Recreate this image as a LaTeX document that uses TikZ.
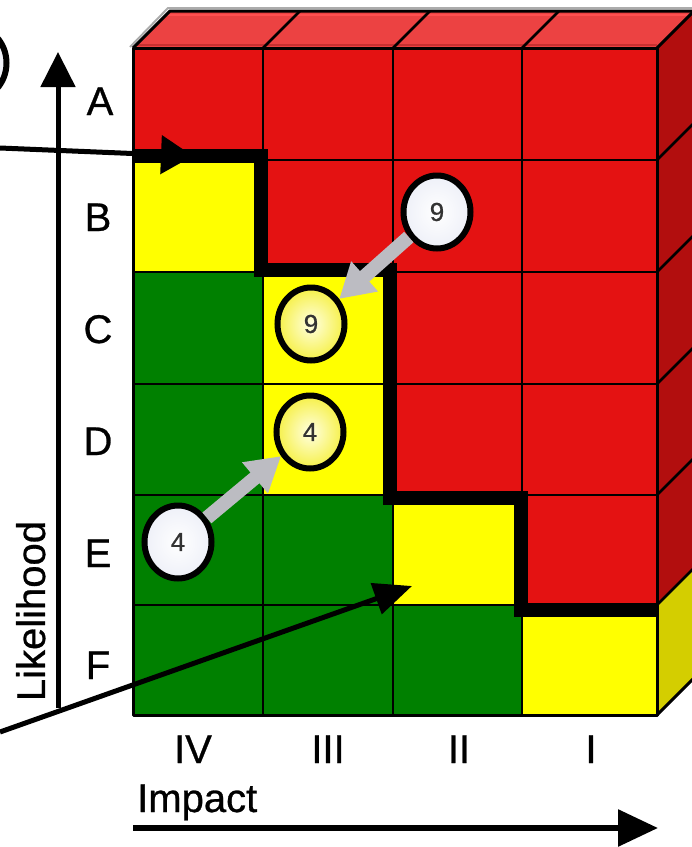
\documentclass[tikz,border=0pt]{standalone}
\usepackage{fontspec}
\setmainfont{Liberation Sans}
\newfontfamily\lblfont{Liberation Sans}[FakeBold=0.7]
\usetikzlibrary{arrows.meta,calc,shapes.geometric}
\definecolor{cred}{RGB}{228,18,18}
\definecolor{credtop}{RGB}{236,66,66}
\definecolor{credtophi}{RGB}{255,80,80}
\definecolor{credtoplo}{RGB}{200,48,48}
\definecolor{credside}{RGB}{178,14,14}
\definecolor{cyel}{RGB}{255,255,0}
\definecolor{cyelside}{RGB}{212,206,0}
\definecolor{cgreen}{RGB}{0,128,0}
\definecolor{carrow}{RGB}{188,188,194}
\definecolor{cwout}{RGB}{238,240,248}
\definecolor{cyin}{RGB}{255,255,225}
\definecolor{cyout}{RGB}{246,240,70}
\begin{document}
\begin{tikzpicture}[x=1pt,y=-1pt,
  lbl/.style={font=\lblfont\fontsize{40}{48}\selectfont, inner sep=0pt, anchor=base},
  gridline/.style={line width=2.5pt, black},
  edgeline/.style={line width=3pt, black, line join=round},
  stepline/.style={line width=14pt, black, line join=miter},
  axis/.style={line width=5pt, black},
  markw/.style={ellipse, draw, line width=6pt, minimum width=67pt, minimum height=73pt, inner sep=0pt,
     shading=radial, inner color=white, outer color=cwout,
     font=\lblfont\fontsize{26}{26}\selectfont, text=black!80},
  marky/.style={ellipse, draw, line width=6pt, minimum width=67pt, minimum height=73pt, inner sep=0pt,
     shading=radial, inner color=cyin, outer color=cyout,
     font=\lblfont\fontsize{26}{26}\selectfont, text=black!80},
  garrow/.style={line width=14pt, carrow, -{Triangle[length=34pt,width=38pt]}}
]
\useasboundingbox (0,0) rectangle (692,847);
\clip (0,0) rectangle (692,847);
% shadow line on top
\draw[gray!65, line width=2pt] (130,47) -- (168,8) -- (700,8);
% front cells
\fill[cred] (133,48) rectangle (657,715);
\fill[cyel] (133,160) rectangle (263,272);
\fill[cyel] (263,272) rectangle (393,495);
\fill[cyel] (393,495) rectangle (522,605);
\fill[cyel] (522,605) rectangle (657,715);
\fill[cgreen] (133,272) rectangle (263,715);
\fill[cgreen] (263,495) rectangle (393,715);
\fill[cgreen] (393,605) rectangle (522,715);
% top face
\fill[credtop] (133,48) -- (170,11) -- (694,11) -- (657,48) -- cycle;
\draw[line width=2pt, credtophi] (167,15) -- (694,15);
\draw[line width=2pt, credtoplo] (137,45) -- (657,45);
% right face
\fill[credside] (657,48) -- (694,11) -- (694,568) -- (657,605) -- cycle;
\fill[cyelside] (657,605) -- (694,568) -- (694,678) -- (657,715) -- cycle;
% grid lines
\foreach \x in {263,393,522} {
  \draw[gridline] (\x,48) -- (\x,715);
  \draw[gridline] (\x,48) -- ({\x+37},11);
}
\foreach \y in {160,272,384,495,605} {
  \draw[gridline] (133,\y) -- (657,\y);
  \draw[gridline] (657,\y) -- (694,{\y-37});
}
\draw[edgeline] (133,48) rectangle (657,715);
\draw[edgeline] (133,48) -- (170,11) -- (694,11);
\draw[edgeline] (657,48) -- (694,11);
\draw[edgeline] (657,715) -- (694,678);
% threshold step line
\draw[stepline] (133,156) -- (261,156) -- (261,270) -- (390,270) -- (390,498) -- (521,498) -- (521,610) -- (657,610);
% axes
\coordinate (vax0) at (58,708);
\coordinate (vax1) at (58,52);
\draw[axis, -{Triangle[length=35pt,width=34pt]}] (vax0) -- (vax1);
\coordinate (hax0) at (133,828);
\coordinate (hax1) at (658,828);
\draw[line width=6pt, -{Triangle[length=40pt,width=36pt]}] (hax0) -- (hax1);
% pointer arrows
\coordinate (la0) at (0,148);
\coordinate (la1) at (193,156);
\draw[axis, -{Triangle[length=32pt,width=38pt]}] (la0) -- (la1);
\coordinate (lb0) at (0,732);
\coordinate (lb1) at (412,586);
\draw[axis, -{Triangle[length=38pt,width=32pt]}] (lb0) -- (lb1);
% labels
\node[lbl] (rA) at (100,115) {A};
\node[lbl] (rB) at (98,231) {B};
\node[lbl] (rC) at (98,343) {C};
\node[lbl] (rD) at (98,455) {D};
\node[lbl] (rE) at (98,567) {E};
\node[lbl] (rF) at (98,679) {F};
\node[lbl] (cIV) at (193,763) {IV};
\node[lbl] (cIII) at (328,763) {III};
\node[lbl] (cII) at (459,763) {II};
\node[lbl] (cI) at (591,763) {I};
\node[lbl, anchor=base west] (imp) at (137,812) {Impact};
\node[lbl, rotate=90] (lik) at (45,611) {Likelihood};
% markers
\node[markw] (tl) at (-27,63) {};
\node[markw] (w9) at (437,212) {9};
\node[marky] (y9) at (311,324) {9};
\node[marky] (y4) at (310,432) {4};
\node[markw] (w4) at (178,542) {4};
\draw[garrow] (w9) -- (y9);
\draw[garrow] (w4) -- (y4);
\end{tikzpicture}
\end{document}
